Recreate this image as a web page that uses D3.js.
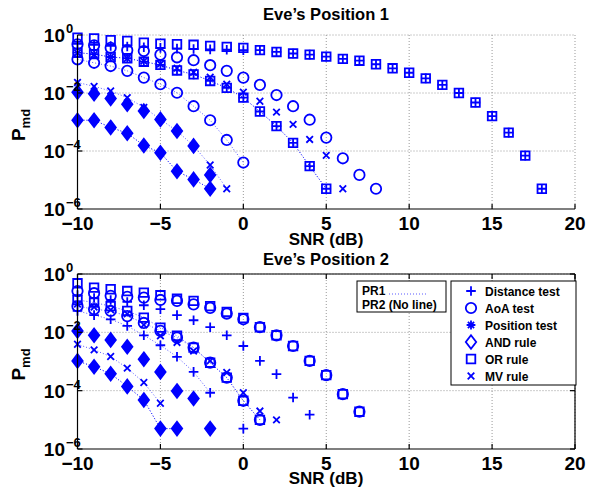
<!DOCTYPE html>
<html>
<head>
<meta charset="utf-8">
<script src="https://cdn.jsdelivr.net/npm/d3@7"></script>
<style>
  body { margin: 0; background: #fff; }
  text { font-family: "Liberation Sans", Arial, sans-serif; font-weight: bold; fill: #000; }
</style>
</head>
<body>
<svg id="chart" width="596" height="489"></svg>
<script>
// SNR (dB) for every point, index 0 = -10 dB
const snr = [-10, -9, -8, -7, -6, -5, -4, -3, -2, -1, 0, 1, 2, 3, 4, 5, 6, 7, 8, 9, 10, 11, 12, 13, 14, 15, 16, 17, 18];
const xTicks = [-10, -5, 0, 5, 10, 15, 20];
const yTicks = [1, 1e-2, 1e-4, 1e-6];
const yTickExp = ["0", "\u22122", "\u22124", "\u22126"];
const legendNames = ["Distance test", "AoA test", "Position test", "AND rule", "OR rule", "MV rule"];
const legendMarks = ["plus", "circle", "star", "diamond", "square", "cross"];

// Eve's position 1
const p1OrPR2   = [0.81, 0.76, 0.66, 0.62, 0.54, 0.50, 0.48, 0.46, 0.42, 0.39, 0.36, 0.30, 0.26, 0.23, 0.21, 0.18, 0.15, 0.13, 0.098, 0.071, 0.050, 0.032, 0.019, 0.010, 4.7e-3, 1.6e-3, 4.3e-4, 6.9e-5, 5e-6];
const p1DistPR2 = [0.50, 0.46, 0.42, 0.40, 0.38, 0.36, 0.34, 0.33, 0.32, 0.31, 0.30, 0.30, 0.26, 0.23, 0.21, 0.18, 0.15, 0.13, 0.098, 0.071, 0.050, 0.032, 0.019, 0.010, 4.7e-3, 1.6e-3, 4.3e-4, 6.9e-5, 5e-6];
const p1OrPR1   = [0.245, 0.219, 0.174, 0.158, 0.120, 0.093, 0.060, 0.044, 0.026, 0.015, 6.9e-3, 2.3e-3, 7.2e-4, 1.9e-4, 3.0e-5, 5e-6];
const p1DistPR1 = [0.245, 0.219, 0.174, 0.158, 0.120, 0.093, 0.060, 0.044, 0.026, 0.015, 6.9e-3, 2.3e-3, 7.2e-4, 1.9e-4, 3.0e-5, 5e-6];
const p1AoaPR2  = [0.48, 0.44, 0.36, 0.30, 0.28, 0.21, 0.17, 0.135, 0.091, 0.058, 0.034, 0.019, 8.5e-3, 3.5e-3, 1.2e-3, 2.9e-4, 5.6e-5, 1.5e-5, 5e-6];
const p1AoaPR1  = [0.145, 0.110, 0.085, 0.058, 0.034, 0.020, 0.0102, 3.5e-3, 1.15e-3, 2.4e-4, 4.0e-5];
const p1MvPR2   = [0.24, 0.21, 0.174, 0.155, 0.126, 0.100, 0.072, 0.052, 0.035, 0.020, 0.0107, 5.2e-3, 2.2e-3, 8.3e-4, 2.5e-4, 7.1e-5, 5e-6];
const p1MvPR1   = [0.023, 0.017, 0.0117, 6.9e-3, 3.2e-3, 1.23e-3, 4.9e-4, 1.5e-4, 3.3e-5, 5e-6];
const p1AndPR2  = [0.0107, 9.5e-3, 6.5e-3, 4.1e-3, 2.4e-3, 1.23e-3, 4.9e-4, 1.5e-4, 1.5e-5];
const p1AndPR1  = [1.15e-3, 1.15e-3, 6.5e-4, 4.1e-4, 1.55e-4, 8.7e-5, 2.0e-5, 1.05e-5, 5e-6];
const p1PosPR2  = [0.0107, 9.5e-3, 6.5e-3, 4.1e-3, 2.4e-3, 1.23e-3, 4.9e-4, 1.5e-4, 1.5e-5];
const p1PosPR1  = [1.15e-3, 1.15e-3, 6.5e-4, 4.1e-4, 1.55e-4, 8.7e-5, 2.0e-5, 1.05e-5, 5e-6];

// Eve's position 2
const p2OrPR2   = [0.48, 0.34, 0.30, 0.26, 0.23, 0.186, 0.141, 0.120, 0.079, 0.050, 0.031, 0.015, 7.9e-3, 3.4e-3, 1.05e-3, 3.4e-4, 7.6e-5, 1.9e-5];
const p2AoaPR2  = [0.26, 0.22, 0.178, 0.166, 0.155, 0.129, 0.120, 0.091, 0.069, 0.044, 0.028, 0.015, 7.9e-3, 3.4e-3, 1.05e-3, 3.4e-4, 7.6e-5, 1.9e-5];
const p2OrPR1   = [0.129, 0.105, 0.079, 0.054, 0.032, 0.0145, 7.6e-3, 3.0e-3, 9.1e-4, 2.8e-4, 4.5e-5, 1.0e-5];
const p2AoaPR1  = [0.079, 0.062, 0.054, 0.036, 0.021, 0.0112, 6.6e-3, 3.0e-3, 9.1e-4, 2.8e-4, 4.5e-5, 1.0e-5];
const p2DistPR2 = [0.19, 0.151, 0.129, 0.110, 0.085, 0.062, 0.039, 0.026, 0.015, 7.9e-3, 3.4e-3, 1.05e-3, 3.7e-4, 5.8e-5, 1.5e-5];
const p2DistPR1 = [0.054, 0.039, 0.028, 0.0166, 7.9e-3, 3.6e-3, 1.45e-3, 4.4e-4, 8.5e-5, null, 5e-6];
const p2MvPR2   = [0.093, 0.074, 0.059, 0.043, 0.018, 7.6e-3, 4.5e-3, 2.3e-3, 1.05e-3, 4.2e-4, 8.5e-5, 2.0e-5, 1.0e-5];
const p2MvPR1   = [3.9e-3, 2.5e-3, 1.48e-3, 5.9e-4, 1.9e-4, 3.7e-5];
const p2AndPR2  = [0.0112, 7.9e-3, 5.5e-3, 3.2e-3, 1.2e-3, 4.4e-4, 9.8e-5, 5.4e-5, 5e-6];
const p2AndPR1  = [1.05e-3, 6.6e-4, 3.8e-4, 1.4e-4, 4.8e-5, 5e-6, 5e-6];
const p2PosPR2  = [0.0112, 7.9e-3, 5.5e-3, 3.2e-3, 1.2e-3, 4.4e-4, 9.8e-5, 5.4e-5, 5e-6];
const p2PosPR1  = [1.05e-3, 6.6e-4, 3.8e-4, 1.4e-4, 4.8e-5, 5e-6, 5e-6];

const BLUE = "#0000ff";
const svg = d3.select("#chart");

// marker outlines, centred on 0,0
function markPath(type) {
  switch (type) {
    case "plus":   return "M-4.8,0H4.8M0,-4.8V4.8";
    case "cross":  return "M-3.3,-3.3L3.3,3.3M-3.3,3.3L3.3,-3.3";
    case "star":   return "M-4.4,0H4.4M0,-4.4V4.4M-3.1,-3.1L3.1,3.1M-3.1,3.1L3.1,-3.1";
    case "square": return "M-4.3,-4.3H4.3V4.3H-4.3Z";
    case "diamond":return "M0,-6.8L5.2,0L0,6.8L-5.2,0Z";
    case "circle": return d3.arc()({innerRadius: 0, outerRadius: 5.2, startAngle: 0, endAngle: 2 * Math.PI});
  }
}

function drawPanel(cfg) {
  const x = d3.scaleLinear().domain([-10, 20]).range([77.5, 575]);
  const y = d3.scaleLog().domain([1e-6, 1]).range([cfg.bottom, cfg.top]);
  const g = svg.append("g");

  // grid
  g.selectAll(".vg").data(xTicks.slice(1)).enter().append("line")
    .attr("x1", d => x(d)).attr("x2", d => x(d))
    .attr("y1", cfg.top).attr("y2", cfg.bottom)
    .attr("stroke", "#999").attr("stroke-dasharray", "1,2");
  g.selectAll(".hg").data(yTicks.slice(0, 3)).enter().append("line")
    .attr("x1", x(-10)).attr("x2", x(20))
    .attr("y1", d => y(d)).attr("y2", d => y(d))
    .attr("stroke", "#999").attr("stroke-dasharray", "1,2");

  // series
  cfg.series.forEach(s => {
    const pts = s.values.map((v, i) => ({x: snr[i], y: v}));
    if (s.line) {
      g.append("path")
        .attr("d", d3.line().defined(d => d.y != null).x(d => x(d.x)).y(d => y(d.y))(pts))
        .attr("fill", "none").attr("stroke", BLUE).attr("stroke-opacity", 0.65)
        .attr("stroke-width", 1).attr("stroke-dasharray", "1,2");
    }
    g.selectAll(null).data(pts.filter(d => d.y != null)).enter().append("path")
      .attr("transform", d => `translate(${x(d.x)},${y(d.y)})`)
      .attr("d", markPath(s.mark))
      .attr("fill", s.mark === "diamond" ? BLUE : "none")
      .attr("stroke", BLUE).attr("stroke-width", 1.8);
  });

  // axes frame
  const axc = g.append("g").attr("stroke", "#000").attr("stroke-width", 1.2);
  axc.append("line").attr("x1", x(-10)).attr("x2", x(-10)).attr("y1", cfg.top).attr("y2", cfg.bottom);
  axc.append("line").attr("x1", x(-10)).attr("x2", x(20)).attr("y1", cfg.bottom).attr("y2", cfg.bottom);
  if (cfg.box) {
    axc.append("line").attr("x1", x(20)).attr("x2", x(20)).attr("y1", cfg.top).attr("y2", cfg.bottom);
    axc.append("line").attr("x1", x(-10)).attr("x2", x(20)).attr("y1", cfg.top).attr("y2", cfg.top);
  }
  xTicks.forEach(t => {
    axc.append("line").attr("x1", x(t)).attr("x2", x(t)).attr("y1", cfg.bottom).attr("y2", cfg.bottom - 5);
    if (cfg.box) axc.append("line").attr("x1", x(t)).attr("x2", x(t)).attr("y1", cfg.top).attr("y2", cfg.top + 5);
  });
  yTicks.forEach(t => {
    axc.append("line").attr("x1", x(-10)).attr("x2", x(-10) + 5).attr("y1", y(t)).attr("y2", y(t));
    if (cfg.box) axc.append("line").attr("x1", x(20)).attr("x2", x(20) - 5).attr("y1", y(t)).attr("y2", y(t));
  });

  // tick labels
  g.selectAll(".xl").data(xTicks).enter().append("text")
    .attr("x", d => x(d)).attr("y", cfg.bottom + 21)
    .attr("text-anchor", "middle").attr("font-size", 19)
    .text(d => d < 0 ? "\u2212" + Math.abs(d) : d);
  yTicks.forEach((t, i) => {
    g.append("text").attr("x", 65).attr("y", y(t) + 7)
      .attr("text-anchor", "end").attr("font-size", 19).text("10");
    g.append("text").attr("x", 66).attr("y", y(t) - 2)
      .attr("font-size", 13).text(yTickExp[i]);
  });

  // labels
  g.append("text").attr("x", 326).attr("y", cfg.titleY)
    .attr("text-anchor", "middle").attr("font-size", 16.5).text(cfg.title);
  g.append("text").attr("x", 326).attr("y", cfg.xlabelY)
    .attr("text-anchor", "middle").attr("font-size", 17).text("SNR (dB)");
  const yl = g.append("text")
    .attr("transform", `translate(25,${(cfg.top + cfg.bottom) / 2 + 3}) rotate(-90)`)
    .attr("text-anchor", "middle").attr("font-size", 19);
  yl.append("tspan").text("P");
  yl.append("tspan").attr("font-size", 13).attr("dy", 5).text("md");
  return g;
}

drawPanel({
  top: 35, bottom: 209, box: false, title: "Eve\u2019s Position 1", titleY: 20, xlabelY: 245,
  series: [
    {values: p1AndPR1, mark: "diamond", line: true},
    {values: p1AndPR2, mark: "diamond", line: false},
    {values: p1PosPR1, mark: "star", line: true},
    {values: p1PosPR2, mark: "star", line: false},
    {values: p1OrPR1, mark: "square", line: true},
    {values: p1OrPR2, mark: "square", line: false},
    {values: p1DistPR1, mark: "plus", line: true},
    {values: p1DistPR2, mark: "plus", line: false},
    {values: p1AoaPR1, mark: "circle", line: true},
    {values: p1AoaPR2, mark: "circle", line: false},
    {values: p1MvPR1, mark: "cross", line: true},
    {values: p1MvPR2, mark: "cross", line: false}
  ]
});

const g2 = drawPanel({
  top: 274, bottom: 449, box: true, title: "Eve\u2019s Position 2", titleY: 265, xlabelY: 484,
  series: [
    {values: p2AndPR1, mark: "diamond", line: true},
    {values: p2AndPR2, mark: "diamond", line: false},
    {values: p2PosPR1, mark: "star", line: true},
    {values: p2PosPR2, mark: "star", line: false},
    {values: p2OrPR1, mark: "square", line: true},
    {values: p2OrPR2, mark: "square", line: false},
    {values: p2DistPR1, mark: "plus", line: true},
    {values: p2DistPR2, mark: "plus", line: false},
    {values: p2AoaPR1, mark: "circle", line: true},
    {values: p2AoaPR2, mark: "circle", line: false},
    {values: p2MvPR1, mark: "cross", line: true},
    {values: p2MvPR2, mark: "cross", line: false}
  ]
});

// protocol legend
const lg1 = g2.append("g");
lg1.append("rect").attr("x", 357).attr("y", 281).attr("width", 89).attr("height", 31)
  .attr("fill", "#fff").attr("stroke", "#000");
lg1.append("text").attr("x", 362).attr("y", 295).attr("font-size", 12).text("PR1");
lg1.append("line").attr("x1", 389).attr("x2", 428).attr("y1", 294).attr("y2", 294)
  .attr("stroke", BLUE).attr("stroke-opacity", 0.65).attr("stroke-dasharray", "1,2");
lg1.append("text").attr("x", 362).attr("y", 309).attr("font-size", 12).text("PR2 (No line)");

// marker legend
const lg2 = g2.append("g");
lg2.append("rect").attr("x", 451).attr("y", 281).attr("width", 125).attr("height", 104)
  .attr("fill", "#fff").attr("stroke", "#000");
const rows = lg2.selectAll(".row").data(legendNames).enter().append("g")
  .attr("transform", (d, i) => `translate(0,${291 + i * 17})`);
rows.append("path").attr("transform", "translate(471,0)")
  .attr("d", (d, i) => markPath(legendMarks[i]))
  .attr("fill", "none").attr("stroke", BLUE).attr("stroke-width", 1.8);
rows.append("text").attr("x", 485).attr("y", 4.5).attr("font-size", 12).text(d => d);
</script>
</body>
</html>
